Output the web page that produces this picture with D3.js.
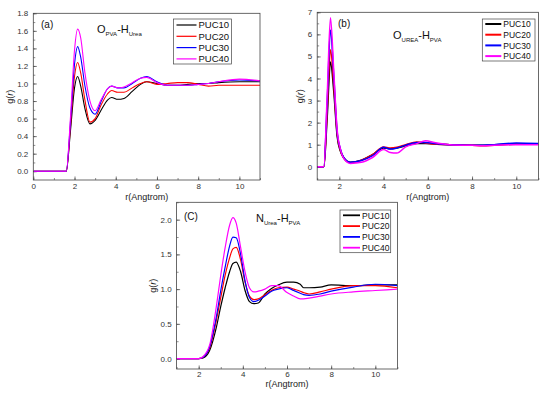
<!DOCTYPE html>
<html>
<head>
<meta charset="utf-8">
<script src="https://cdn.jsdelivr.net/npm/d3@7"></script>
<style>
  body { margin: 0; background: #fff; }
  text { font-family: Arial, "Liberation Sans", sans-serif; }
</style>
</head>
<body>
<svg id="chart" width="550" height="393"></svg>
<script>
// series names / colors
const seriesNames = ["PUC10", "PUC20", "PUC30", "PUC40"];
const seriesColors = ["#000000", "#ff0000", "#0000ff", "#ff00ff"];

// panel (a) O_PVA-H_Urea
const rA = [0, 1.6, 1.8, 2.0, 2.15, 2.3, 2.5, 2.75, 3.0, 3.3, 3.6, 3.8, 4.1, 4.4, 4.8, 5.2, 5.5, 6.0, 6.5, 7.0, 7.5, 8.0, 8.5, 9.0, 10.0, 11.0];
const gA10 = [0, 0, 0.45, 0.95, 1.08, 0.97, 0.72, 0.54, 0.58, 0.7, 0.81, 0.84, 0.82, 0.83, 0.91, 0.99, 1.02, 1.0, 0.98, 0.98, 0.99, 1.0, 1.0, 1.01, 1.02, 1.02];
const gA20 = [0, 0, 0.5, 1.08, 1.24, 1.12, 0.82, 0.56, 0.6, 0.76, 0.88, 0.92, 0.9, 0.9, 0.95, 1.0, 1.02, 0.99, 1.0, 1.01, 1.01, 0.99, 0.97, 0.98, 0.98, 0.98];
const gA30 = [0, 0, 0.55, 1.22, 1.42, 1.3, 0.98, 0.72, 0.65, 0.8, 0.94, 0.97, 0.95, 0.95, 1.0, 1.06, 1.08, 1.02, 0.98, 0.98, 0.98, 0.99, 1.0, 1.02, 1.04, 1.03];
const gA40 = [0, 0, 0.6, 1.38, 1.62, 1.52, 1.13, 0.8, 0.69, 0.82, 0.94, 0.97, 0.95, 0.96, 1.01, 1.06, 1.07, 1.01, 0.98, 0.98, 0.98, 0.99, 1.0, 1.02, 1.05, 1.03];

// panel (b) O_UREA-H_PVA
const rB = [1.0, 1.3, 1.45, 1.6, 1.75, 1.9, 2.05, 2.2, 2.5, 3.0, 3.5, 4.0, 4.3, 4.6, 5.0, 5.5, 5.9, 6.3, 7.0, 8.0, 8.5, 9.0, 10.0, 11.0];
const gB10 = [0, 0, 2.2, 4.75, 3.4, 1.4, 0.7, 0.4, 0.2, 0.3, 0.55, 0.85, 0.82, 0.85, 0.95, 1.05, 1.05, 1.03, 1.0, 0.98, 0.98, 1.0, 1.02, 1.03];
const gB20 = [0, 0, 2.5, 5.3, 3.7, 1.5, 0.75, 0.4, 0.18, 0.3, 0.55, 0.9, 0.85, 0.88, 1.0, 1.12, 1.08, 1.03, 1.0, 0.98, 0.95, 0.98, 1.02, 1.02];
const gB30 = [0, 0, 2.9, 6.2, 4.1, 1.6, 0.8, 0.42, 0.2, 0.28, 0.5, 0.88, 0.8, 0.85, 0.98, 1.1, 1.1, 1.05, 1.0, 0.98, 0.98, 1.0, 1.08, 1.05];
const gB40 = [0, 0, 3.2, 6.75, 4.3, 1.7, 0.8, 0.38, 0.15, 0.2, 0.42, 0.78, 0.65, 0.62, 0.9, 1.05, 1.18, 1.1, 1.0, 0.97, 0.95, 0.98, 1.0, 1.0];

// panel (c) N_Urea-H_PVA
const rC = [1.0, 2.0, 2.2, 2.5, 2.8, 3.0, 3.2, 3.4, 3.55, 3.7, 3.9, 4.1, 4.3, 4.5, 4.7, 5.0, 5.3, 5.6, 6.0, 6.3, 6.6, 6.75, 7.0, 7.5, 8.0, 9.0, 10.0, 11.0];
const gC10 = [0, 0, 0.01, 0.12, 0.45, 0.75, 1.02, 1.25, 1.37, 1.39, 1.25, 0.98, 0.82, 0.79, 0.8, 0.93, 1.01, 1.06, 1.1, 1.1, 1.07, 1.02, 1.02, 1.03, 1.06, 1.05, 1.06, 1.06];
const gC20 = [0, 0, 0.02, 0.15, 0.55, 0.88, 1.2, 1.45, 1.58, 1.6, 1.42, 1.1, 0.9, 0.85, 0.86, 0.92, 0.98, 1.02, 1.03, 1.0, 0.97, 0.95, 0.93, 0.96, 1.0, 1.05, 1.05, 1.02];
const gC30 = [0, 0, 0.02, 0.17, 0.6, 0.98, 1.32, 1.62, 1.75, 1.74, 1.5, 1.12, 0.88, 0.82, 0.84, 0.9, 0.97, 1.0, 1.02, 0.98, 0.94, 0.92, 0.91, 0.93, 0.97, 1.03, 1.07, 1.05];
const gC40 = [0, 0, 0.03, 0.2, 0.75, 1.2, 1.6, 1.92, 2.03, 1.95, 1.6, 1.25, 1.02, 0.96, 0.97, 1.0, 1.05, 1.05, 0.95, 0.9, 0.86, 0.86, 0.87, 0.9, 0.93, 0.96, 0.98, 1.0];

const svg = d3.select("#chart");
svg.append("rect").attr("width", 550).attr("height", 393).attr("fill", "#fff");

function drawPanel(p) {
  const x = d3.scaleLinear().domain(p.xDomain).range([p.left, p.right]);
  const y = d3.scaleLinear().domain(p.yDomain).range([p.bottom, p.top]);
  const g = svg.append("g");

  // minor ticks
  const xMinor = d3.range(p.xDomain[0], p.xDomain[1] + 1e-9, p.xStep / 2);
  const yMinor = d3.range(p.yMinStart, p.yDomain[1] + 1e-9, p.yStep / 2);

  g.append("g")
    .attr("transform", `translate(0,${p.bottom})`)
    .call(d3.axisBottom(x).tickValues(xMinor).tickSize(-2).tickFormat(""))
    .call(s => s.select(".domain").remove())
    .selectAll("line").attr("stroke", "#444").attr("stroke-width", 0.6);
  g.append("g")
    .attr("transform", `translate(${p.left},0)`)
    .call(d3.axisLeft(y).tickValues(yMinor).tickSize(-2).tickFormat(""))
    .call(s => s.select(".domain").remove())
    .selectAll("line").attr("stroke", "#444").attr("stroke-width", 0.6);

  // major ticks
  const xAx = g.append("g")
    .attr("transform", `translate(0,${p.bottom})`)
    .call(d3.axisBottom(x).tickValues(p.xTicks).tickSizeInner(-3.5).tickSizeOuter(0).tickPadding(p.xPad).tickFormat(d3.format("d")));
  const yAx = g.append("g")
    .attr("transform", `translate(${p.left},0)`)
    .call(d3.axisLeft(y).tickValues(p.yTicks).tickSizeInner(-3.5).tickSizeOuter(0).tickPadding(5).tickFormat(p.yFormat));
  [xAx, yAx].forEach(a => {
    a.select(".domain").remove();
    a.selectAll("line").attr("stroke", "#444").attr("stroke-width", 0.7);
    a.selectAll("text").attr("font-size", 8).attr("fill", "#333");
  });

  // clip
  const clipId = "clip" + p.id;
  svg.append("clipPath").attr("id", clipId)
    .append("rect").attr("x", p.left).attr("y", p.top)
    .attr("width", p.right - p.left).attr("height", p.bottom - p.top);

  const line = d3.line()
    .x(d => x(d[0]))
    .y(d => y(d[1]))
    .curve(d3.curveMonotoneX);

  p.series.forEach((vals, i) => {
    g.append("path")
      .datum(p.r.map((r, j) => [r, vals[j]]))
      .attr("clip-path", `url(#${clipId})`)
      .attr("fill", "none")
      .attr("stroke", seriesColors[i])
      .attr("stroke-width", p.lineWidth)
      .attr("d", line);
  });

  // frame
  g.append("rect")
    .attr("x", p.left).attr("y", p.top)
    .attr("width", p.right - p.left).attr("height", p.bottom - p.top)
    .attr("fill", "none").attr("stroke", "#444").attr("stroke-width", 0.8);

  // legend
  const lg = g.append("g");
  lg.append("rect")
    .attr("x", p.legend.x).attr("y", p.legend.y)
    .attr("width", p.legend.w).attr("height", p.legend.h)
    .attr("fill", "#fff").attr("stroke", "#444").attr("stroke-width", 0.7);
  seriesNames.forEach((name, i) => {
    const yy = p.legend.y + p.legend.first + i * p.legend.gap;
    lg.append("line")
      .attr("x1", p.legend.x + 3).attr("x2", p.legend.x + p.legend.lineLen)
      .attr("y1", yy).attr("y2", yy)
      .attr("stroke", seriesColors[i]).attr("stroke-width", p.legend.lw);
    lg.append("text")
      .attr("x", p.legend.x + p.legend.lineLen + 2).attr("y", yy + 3.3)
      .attr("font-size", p.legend.fs).attr("fill", "#111").text(name);
  });

  // panel tag
  g.append("text").attr("x", p.tag.x).attr("y", p.tag.y)
    .attr("font-size", 10).attr("fill", "#111").text(p.tag.text);

  // title with subscripts
  const t = g.append("text").attr("x", p.title.x).attr("y", p.title.y)
    .attr("font-size", 11).attr("fill", "#111");
  t.append("tspan").text(p.title.a);
  t.append("tspan").attr("font-size", 6).attr("dy", 2.5).text(p.title.aSub);
  t.append("tspan").attr("dy", -2.5).text("-" + p.title.b);
  t.append("tspan").attr("font-size", 6).attr("dy", 2.5).text(p.title.bSub);

  // axis labels
  g.append("text")
    .attr("x", (p.left + p.right) / 2).attr("y", p.bottom + p.xlabelDy)
    .attr("text-anchor", "middle").attr("font-size", 9).attr("fill", "#222")
    .text("r(Angtrom)");

  const yl = g.append("text")
    .attr("transform", `translate(${p.ylabelX},${(p.top + p.bottom) / 2}) rotate(-90)`)
    .attr("text-anchor", "middle").attr("font-size", 9).attr("fill", "#222");
  yl.append("tspan").text("g(");
  yl.append("tspan").attr("font-style", "italic").text("r");
  yl.append("tspan").text(")");
}

drawPanel({
  id: "a", left: 33.3, right: 260, top: 13.3, bottom: 180,
  xDomain: [0, 11], yDomain: [-0.1, 1.8],
  xTicks: [0, 2, 4, 6, 8, 10], xStep: 2, xPad: 3.5, xlabelDy: 19.5,
  yTicks: d3.range(0, 1.81, 0.2), yStep: 0.2, yMinStart: 0, yFormat: d3.format(".1f"),
  r: rA, series: [gA10, gA20, gA30, gA40], lineWidth: 1.1,
  legend: { x: 173.5, y: 19, w: 58, h: 45, first: 6, gap: 11.3, lineLen: 23, lw: 1.2, fs: 9.5 },
  tag: { x: 41, y: 28, text: "(a)" },
  title: { x: 97, y: 33, a: "O", aSub: "PVA", b: "H", bSub: "Urea" },
  ylabelX: 13
});

drawPanel({
  id: "b", left: 317.2, right: 538.4, top: 12.3, bottom: 180,
  xDomain: [1, 11], yDomain: [-0.6, 7],
  xTicks: [2, 4, 6, 8, 10], xStep: 2, xPad: 3, xlabelDy: 20,
  yTicks: d3.range(0, 7.01, 1), yStep: 1, yMinStart: 0, yFormat: d3.format("d"),
  r: rB, series: [gB10, gB20, gB30, gB40], lineWidth: 1.5,
  legend: { x: 482.3, y: 19, w: 52.7, h: 42, first: 5, gap: 10.7, lineLen: 19, lw: 2, fs: 8.5 },
  tag: { x: 338, y: 27, text: "(b)" },
  title: { x: 393, y: 39, a: "O", aSub: "UREA", b: "H", bSub: "PVA" },
  ylabelX: 303
});

drawPanel({
  id: "c", left: 176.6, right: 397.4, top: 202.3, bottom: 369,
  xDomain: [1, 11], yDomain: [-0.15, 2.25],
  xTicks: [2, 4, 6, 8, 10], xStep: 2, xPad: 2, xlabelDy: 17.5,
  yTicks: [0, 0.5, 1, 1.5, 2], yStep: 0.5, yMinStart: 0, yFormat: d3.format(".1f"),
  r: rC, series: [gC10, gC20, gC30, gC40], lineWidth: 1.2,
  legend: { x: 340, y: 210, w: 50.7, h: 42.7, first: 5.3, gap: 10.8, lineLen: 20, lw: 1.8, fs: 8.5 },
  tag: { x: 184, y: 220, text: "(C)" },
  title: { x: 256, y: 222, a: "N", aSub: "Urea", b: "H", bSub: "PVA" },
  ylabelX: 156
});
</script>
</body>
</html>
